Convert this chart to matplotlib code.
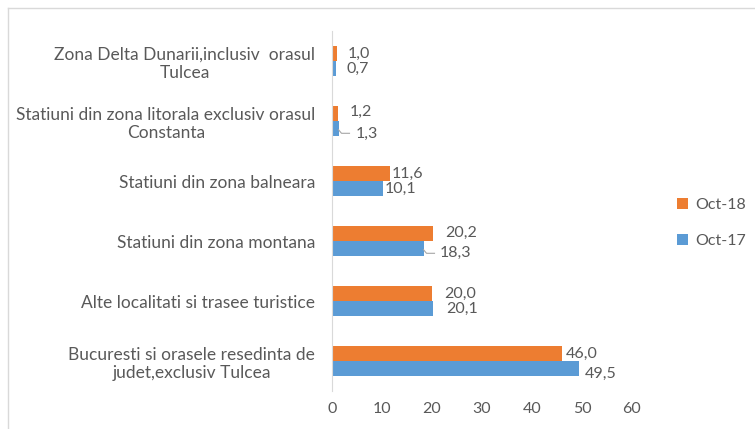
import matplotlib
matplotlib.use('Agg')

import matplotlib.pyplot as plt
import numpy as np
from matplotlib.lines import Line2D

plt.rcParams['font.family'] = ['Lato', 'DejaVu Sans']

categories = ["Bucuresti si orasele resedinta de\njudet,exclusiv Tulcea",
              "Alte localitati si trasee turistice",
              "Statiuni din zona montana",
              "Statiuni din zona balneara",
              "Statiuni din zona litorala exclusiv orasul\nConstanta",
              "Zona Delta Dunarii,inclusiv  orasul\nTulcea"]
oct17 = [49.5, 20.1, 18.3, 10.1, 1.3, 0.7]
oct18 = [46.0, 20.0, 20.2, 11.6, 1.2, 1.0]

# label offsets in pixels (dx, dy) from bar end
off18 = [(4, 0), (12, 0), (12, 1), (2, 0), (12, 2), (11, 0)]
off17 = [(5, -5), (14, 0), (16, -4), (2, 0), (17, -5), (11, 0)]

orange = '#ED7D31'
blue = '#5B9BD5'
gray = '#595959'

fig = plt.figure(figsize=(7.55, 4.29), dpi=100)
ax = fig.add_axes([332 / 755, 1 - 391 / 429, 300 / 755, 360 / 429])

y = np.arange(len(categories))
h = 0.25
b18 = ax.barh(y + h / 2, oct18, height=h, color=orange, label='Oct-18')
b17 = ax.barh(y - h / 2, oct17, height=h, color=blue, label='Oct-17')

def fmt(v):
    return ('%.1f' % v).replace('.', ',')

for i in range(len(categories)):
    ax.annotate(fmt(oct18[i]), (oct18[i], y[i] + h / 2), xytext=off18[i],
                textcoords='offset pixels', va='center', ha='left',
                fontsize=11.5, color=gray)
    ax.annotate(fmt(oct17[i]), (oct17[i], y[i] - h / 2), xytext=off17[i],
                textcoords='offset pixels', va='center', ha='left',
                fontsize=11.5, color=gray)

# leader lines for the two moved labels
for i in [2, 4]:
    x0 = oct17[i]
    ax.plot([x0, x0 + 0.6, x0 + 2.2], [y[i] - h / 2 - 0.02, y[i] - h / 2 - 0.08, y[i] - h / 2 - 0.08],
            color='#A6A6A6', linewidth=0.8, clip_on=False)

ax.set_xlim(0, 60)
ax.set_ylim(-0.5, len(categories) - 0.5)
ax.set_xticks(np.arange(0, 61, 10))
ax.set_yticks(y)
ax.set_yticklabels(categories, multialignment='center')
ax.tick_params(axis='both', length=0, colors=gray, labelsize=11.5)
ax.tick_params(axis='y', pad=12, labelsize=12.5)
ax.tick_params(axis='x', pad=8)
for s in ['top', 'right', 'bottom']:
    ax.spines[s].set_visible(False)
ax.spines['left'].set_color('#D9D9D9')

leg = fig.legend(handles=[b18, b17], loc='center left', bbox_to_anchor=(0.878, 0.48),
                 frameon=False, fontsize=11.5, handlelength=0.7, handleheight=0.7,
                 handletextpad=0.4, labelspacing=1.4)
for t in leg.get_texts():
    t.set_color(gray)

# chart frame
fig.add_artist(Line2D([8 / 755, 1], [1 - 8 / 429, 1 - 8 / 429], color='#D9D9D9', linewidth=1))
fig.add_artist(Line2D([8 / 755, 8 / 755], [0, 1 - 8 / 429], color='#D9D9D9', linewidth=1))

plt.savefig('out.png', dpi=100)
